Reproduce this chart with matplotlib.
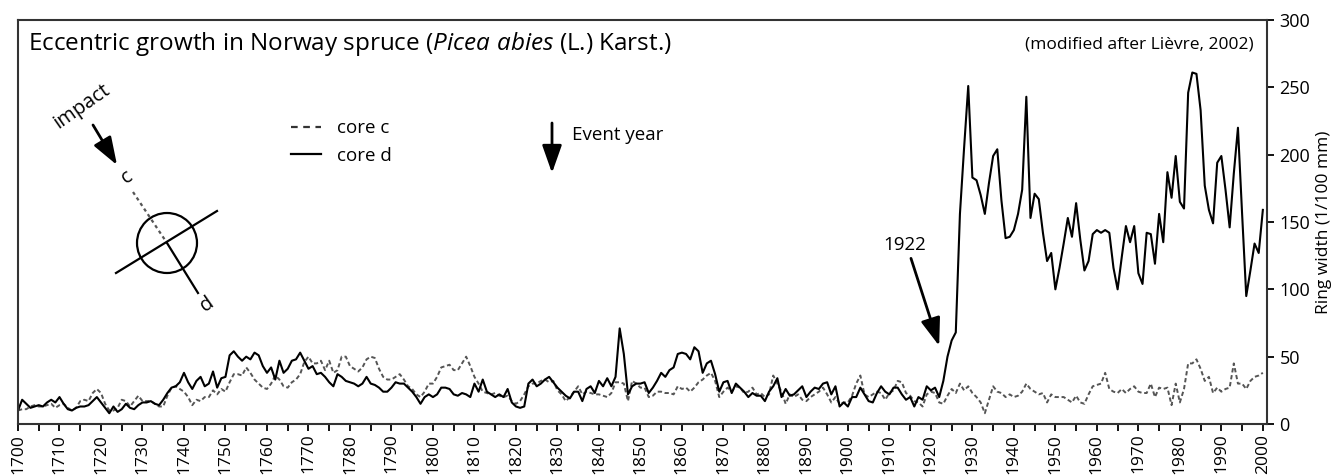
import matplotlib
matplotlib.use("agg")
import matplotlib.pyplot as plt
from matplotlib.lines import Line2D
from matplotlib.patches import Circle
import numpy as np

## ring width series (1/100 mm), one value per year 1700-2000
years = np.arange(1700, 2001)

core_d = [
    10, 18, 15, 12, 13, 14, 13, 16, 18, 16,   # 1700s
    20, 15, 11, 10, 12, 13, 13, 14, 17, 20,
    16, 12, 8, 13, 9, 11, 15, 12, 11, 14,
    16, 16, 17, 15, 14, 18, 23, 27, 28, 31,
    38, 31, 26, 32, 35, 28, 30, 39, 27, 34,
    35, 51, 54, 50, 47, 50, 48, 53, 51, 43,
    38, 42, 33, 47, 38, 41, 47, 48, 53, 47,
    41, 43, 37, 38, 35, 31, 28, 37, 35, 32,
    31, 30, 28, 30, 35, 30, 29, 27, 24, 24,
    27, 31, 30, 30, 27, 24, 20, 15, 20, 22,
    20, 22, 27, 27, 26, 22, 21, 23, 22, 20,   # 1800s
    30, 24, 33, 24, 22, 20, 22, 20, 26, 16,
    13, 12, 13, 30, 33, 28, 30, 33, 35, 31,
    27, 24, 21, 19, 24, 24, 17, 26, 28, 23,
    32, 28, 34, 28, 35, 71, 52, 22, 28, 30,
    30, 31, 23, 27, 32, 38, 35, 40, 42, 52,
    53, 52, 48, 57, 54, 38, 45, 47, 37, 24,
    31, 32, 23, 30, 27, 24, 20, 23, 21, 21,
    17, 24, 28, 34, 20, 26, 21, 22, 25, 28,
    20, 24, 27, 26, 30, 31, 22, 28, 13, 16,
    13, 20, 20, 27, 22, 17, 16, 23, 28, 24,   # 1900s
    22, 27, 27, 22, 18, 20, 13, 20, 18, 28,
    25, 27, 20, 32, 50, 62, 68, 156, 205, 251,
    183, 181, 170, 156, 179, 199, 204, 166, 138, 139,
    144, 156, 174, 243, 153, 171, 167, 142, 121, 127,
    100, 116, 134, 153, 139, 164, 137, 114, 121, 141,
    144, 142, 144, 142, 116, 100, 124, 147, 135, 147,
    112, 104, 142, 141, 119, 156, 135, 187, 168, 199,
    165, 160, 246, 261, 260, 233, 177, 159, 149, 194,
    199, 174, 146, 186, 220, 156, 95, 114, 134, 127,
    159,
]

core_c = [
    10, 11, 11, 13, 14, 13, 13, 14, 15, 12,   # 1700s
    14, 15, 12, 10, 12, 17, 18, 17, 23, 26,
    23, 15, 10, 10, 12, 18, 17, 13, 17, 21,
    17, 17, 17, 15, 13, 13, 21, 27, 28, 26,
    24, 20, 14, 18, 17, 20, 20, 25, 22, 26,
    24, 31, 37, 37, 36, 42, 38, 33, 30, 27,
    26, 30, 36, 33, 28, 27, 31, 33, 37, 46,
    50, 45, 45, 47, 40, 47, 38, 40, 50, 50,
    43, 41, 39, 42, 48, 50, 49, 41, 35, 33,
    33, 35, 37, 33, 28, 26, 22, 20, 24, 30,
    30, 35, 42, 43, 44, 40, 40, 45, 50, 43,   # 1800s
    35, 30, 24, 23, 22, 23, 21, 20, 21, 17,
    15, 17, 22, 28, 30, 30, 32, 33, 31, 32,
    25, 22, 17, 20, 24, 28, 22, 24, 23, 22,
    22, 21, 20, 23, 31, 31, 30, 17, 32, 30,
    27, 27, 20, 21, 24, 24, 23, 23, 22, 28,
    26, 27, 24, 27, 31, 33, 36, 38, 32, 20,
    24, 27, 24, 28, 27, 23, 24, 27, 22, 23,
    20, 22, 36, 30, 24, 15, 22, 20, 22, 18,
    17, 20, 22, 24, 27, 22, 16, 20, 15, 16,
    16, 21, 30, 36, 22, 20, 22, 24, 23, 18,   # 1900s
    23, 25, 32, 31, 23, 21, 17, 16, 13, 22,
    24, 23, 16, 15, 21, 26, 23, 30, 25, 28,
    23, 20, 16, 8, 18, 28, 24, 23, 20, 22,
    20, 21, 24, 30, 26, 24, 22, 23, 16, 22,
    20, 20, 20, 18, 16, 21, 16, 15, 22, 28,
    29, 30, 38, 26, 24, 23, 26, 23, 26, 28,
    24, 23, 23, 30, 20, 27, 26, 27, 14, 30,
    16, 26, 45, 45, 48, 41, 32, 35, 23, 27,
    24, 26, 27, 45, 30, 30, 26, 32, 35, 36,
    38,
]

x_major = np.arange(1700, 2001, 10)
x_minor = np.arange(1705, 2000, 10)
y_ticks = [0, 50, 100, 150, 200, 250, 300]

plt.rcParams['font.family'] = ['Open Sans', 'DejaVu Sans']
plt.rcParams['mathtext.fontset'] = 'custom'
plt.rcParams['mathtext.rm'] = 'Open Sans'
plt.rcParams['mathtext.it'] = 'Open Sans:italic'

W, H = 1333, 476
fig = plt.figure(figsize=(W / 100, H / 100), dpi=100)
ax = fig.add_axes([18 / W, 1 - 424 / H, (1267 - 18) / W, (424 - 20) / H])

ax.plot(years, core_c, color='#555555', lw=1.4, ls=(0, (2.2, 1.4)))
ax.plot(years, core_d, color='black', lw=1.5)

ax.set_xlim(1700, 2001)
ax.set_ylim(0, 300)
ax.set_xticks(x_major)
ax.set_xticks(x_minor, minor=True)
ax.set_xticklabels([str(v) for v in x_major], rotation=90, fontsize=12.5)
ax.set_yticks(y_ticks)
ax.set_yticklabels([str(v) for v in y_ticks], fontsize=13)
ax.yaxis.tick_right()
ax.yaxis.set_label_position('right')
ax.set_ylabel('Ring width (1/100 mm)', fontsize=12.5, labelpad=4)
ax.tick_params(axis='x', which='both', direction='out', length=5, width=1.3, pad=2)
ax.tick_params(axis='y', direction='out', length=5, width=1.3, pad=4)
for s in ax.spines.values():
    s.set_linewidth(1.5)
    s.set_color('#333333')

ax.text(0.008, 0.94, r'Eccentric growth in Norway spruce ($\mathit{Picea\ abies}$ (L.) Karst.)',
        transform=ax.transAxes, fontsize=17.5, va='center', ha='left')
ax.text(0.989, 0.94, '(modified after Lièvre, 2002)', transform=ax.transAxes,
        fontsize=12.5, va='center', ha='right')

# event year 1922
ax.text(1913.6, 133, '1922', fontsize=13.5, ha='center', va='center')
ax.annotate('', xy=(1922, 58), xytext=(1915.2, 123),
            arrowprops=dict(arrowstyle='-|>,head_length=1.7,head_width=0.6',
                            lw=2, color='black', shrinkA=0, shrinkB=0))

# overlay in pixel units for the sketch and legend
ov = fig.add_axes([0, 0, 1, 1])
ov.set_xlim(0, W)
ov.set_ylim(H, 0)
ov.axis('off')

handles = [Line2D([], [], color='#333333', lw=1.6, ls=(0, (3, 2.5))),
           Line2D([], [], color='black', lw=1.6)]
ov.legend(handles, ['core c', 'core d'], loc='center left', bbox_to_anchor=(274, 142),
          bbox_transform=ov.transData, frameon=False, fontsize=13.5,
          handlelength=1.6, handletextpad=0.85, labelspacing=0.5)

ov.annotate('', xy=(552, 173), xytext=(552, 123),
            arrowprops=dict(arrowstyle='-|>,head_length=1.7,head_width=0.6',
                            lw=2, color='black', shrinkA=0, shrinkB=0))
ov.text(572, 135, 'Event year', fontsize=13.5, ha='left', va='center')

# stem sketch
ov.text(82, 106, 'impact', fontsize=14.5, rotation=35, ha='center', va='center')
ov.annotate('', xy=(117, 165), xytext=(93, 125),
            arrowprops=dict(arrowstyle='-|>,head_length=1.7,head_width=0.6',
                            lw=2, color='black', shrinkA=0, shrinkB=0))
ov.text(127, 177, 'c', fontsize=14.5, rotation=35, ha='center', va='center')
ov.text(207, 304, 'd', fontsize=14.5, rotation=35, ha='center', va='center')
ov.plot([133, 167], [192, 243], color='#555555', lw=1.6, ls=(0, (1.5, 1.5)))
ov.plot([167, 198], [243, 293], color='black', lw=1.6)
ov.plot([116, 217], [273, 211], color='black', lw=1.6)
ov.add_patch(Circle((167, 243), 30, fill=False, lw=1.6, color='black'))

fig.savefig('out.png', dpi=100)
